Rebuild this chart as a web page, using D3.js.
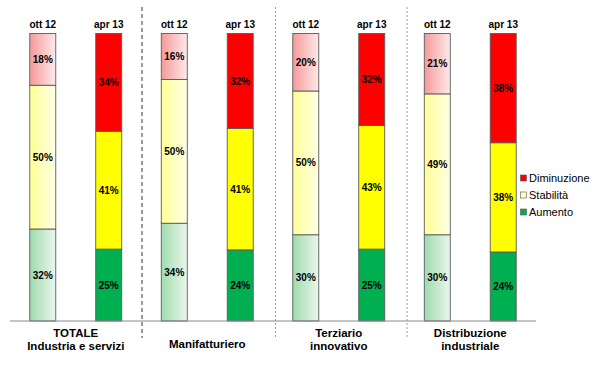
<!DOCTYPE html>
<html><head><meta charset="utf-8">
<script src="https://cdn.jsdelivr.net/npm/d3@7"></script>
<style>body{margin:0;background:#fff}svg{display:block;font-family:"Liberation Sans",Arial,sans-serif}</style>
</head><body><svg id="c" width="600" height="392"></svg>
<script>
const groups = [["TOTALE","Industria e servizi"],["Manifatturiero"],["Terziario","innovativo"],["Distribuzione","industriale"]];
const periods = ["ott 12","apr 13"];
const seriesNames = ["Aumento","Stabilità","Diminuzione"];
const aumento     = [32,25, 34,24, 30,25, 30,24];
const stabilita   = [50,41, 50,41, 50,43, 49,38];
const diminuzione = [18,34, 16,32, 20,32, 21,38];

const rows = [];
groups.forEach((g,gi)=>periods.forEach((p,pi)=>{
  const i = gi*2+pi;
  rows.push({group:gi, period:p, Aumento:aumento[i], "Stabilità":stabilita[i], Diminuzione:diminuzione[i]});
}));
const stack = d3.stack().keys(seriesNames).offset(d3.stackOffsetExpand)(rows);

const svg = d3.select("#c");
const defs = svg.append("defs");
const grads = {
  Aumento:["#9fdbad","#eaf7ec"],
  "Stabilità":["#ffff96","#ffffe6"],
  Diminuzione:["#f59a9a","#ffe9e9"]
};
const solid = {Aumento:"#00b050","Stabilità":"#ffff00",Diminuzione:"#ff0000"};
Object.entries(grads).forEach(([k,c],i)=>{
  const lg = defs.append("linearGradient").attr("id","g"+i).attr("x1","0").attr("x2","1").attr("y1","0").attr("y2","0");
  lg.append("stop").attr("offset","0").attr("stop-color",c[0]);
  lg.append("stop").attr("offset","1").attr("stop-color",c[1]);
});
const gradId = k => "url(#g"+seriesNames.indexOf(k)+")";

const x0 = d3.scaleBand().domain(d3.range(groups.length)).range([10,536]).padding(0);
const x1 = d3.scaleBand().domain(periods).range([0,x0.bandwidth()]).paddingInner(0.606).paddingOuter(0.3);
const y = d3.scaleLinear().domain([0,1]).range([321,33.5]);

const fill = (k,d) => d.data.period===periods[0] ? gradId(k) : solid[k];

stack.forEach(layer=>{
  const k = layer.key;
  const g = svg.append("g");
  g.selectAll("rect").data(layer).join("rect")
    .attr("x",d=>x0(d.data.group)+x1(d.data.period))
    .attr("width",x1.bandwidth())
    .attr("y",d=>y(d[1]))
    .attr("height",d=>y(d[0])-y(d[1]))
    .attr("fill",d=>fill(k,d))
    .attr("stroke","#5a5a5a").attr("stroke-width",0.9);
  g.selectAll("text").data(layer).join("text")
    .attr("x",d=>x0(d.data.group)+x1(d.data.period)+x1.bandwidth()/2)
    .attr("y",d=>(y(d[0])+y(d[1]))/2+3.6)
    .attr("text-anchor","middle").attr("font-size",10).attr("font-weight","bold").attr("fill","#000")
    .text(d=>d.data[k]+"%");
});

// period labels
svg.append("g").selectAll("text").data(rows).join("text")
  .attr("x",d=>x0(d.group)+x1(d.period)+x1.bandwidth()/2)
  .attr("y",28)
  .attr("text-anchor","middle").attr("font-size",10).attr("font-weight","bold")
  .text(d=>d.period);

// baseline axis
svg.append("line").attr("x1",10).attr("x2",536).attr("y1",321).attr("y2",321)
  .attr("stroke","#8a8a8a").attr("stroke-width",1);

// separators
d3.range(1,groups.length).forEach(i=>{
  svg.append("line")
    .attr("x1",x0(i)+(i===1?0.5:2.5)).attr("x2",x0(i)+(i===1?0.5:2.5))
    .attr("y1",7).attr("y2",338)
    .attr("stroke",i===1?"#555":"#9a9a9a")
    .attr("stroke-width",i===1?1.2:1)
    .attr("stroke-dasharray",i===1?"4,3":"2,2");
});

// category labels
groups.forEach((lines,gi)=>{
  const t = svg.append("text").attr("text-anchor","middle").attr("font-size",11.5).attr("font-weight","bold")
    .attr("x",x0(gi)+x0.bandwidth()/2-(gi===0?0:0));
  if(lines.length===1){
    t.append("tspan").attr("x",x0(gi)+x0.bandwidth()/2).attr("y",348).text(lines[0]);
  } else {
    t.append("tspan").attr("x",x0(gi)+x0.bandwidth()/2).attr("y",336.5).text(lines[0]);
    t.append("tspan").attr("x",x0(gi)+x0.bandwidth()/2).attr("y",349.5).text(lines[1]);
  }
});

// legend
const legendItems = seriesNames.slice().reverse();
const lg = svg.append("g");
legendItems.forEach((k,i)=>{
  const yy = 178 + i*17;
  lg.append("rect").attr("x",520.5).attr("y",yy-3).attr("width",6).attr("height",6)
    .attr("fill",solid[k]==="#ffff00"?"#ffffc0":solid[k]).attr("stroke","#555").attr("stroke-width",0.6);
  lg.append("text").attr("x",529).attr("y",yy+4).attr("font-size",11).text(k);
});
</script></body></html>
